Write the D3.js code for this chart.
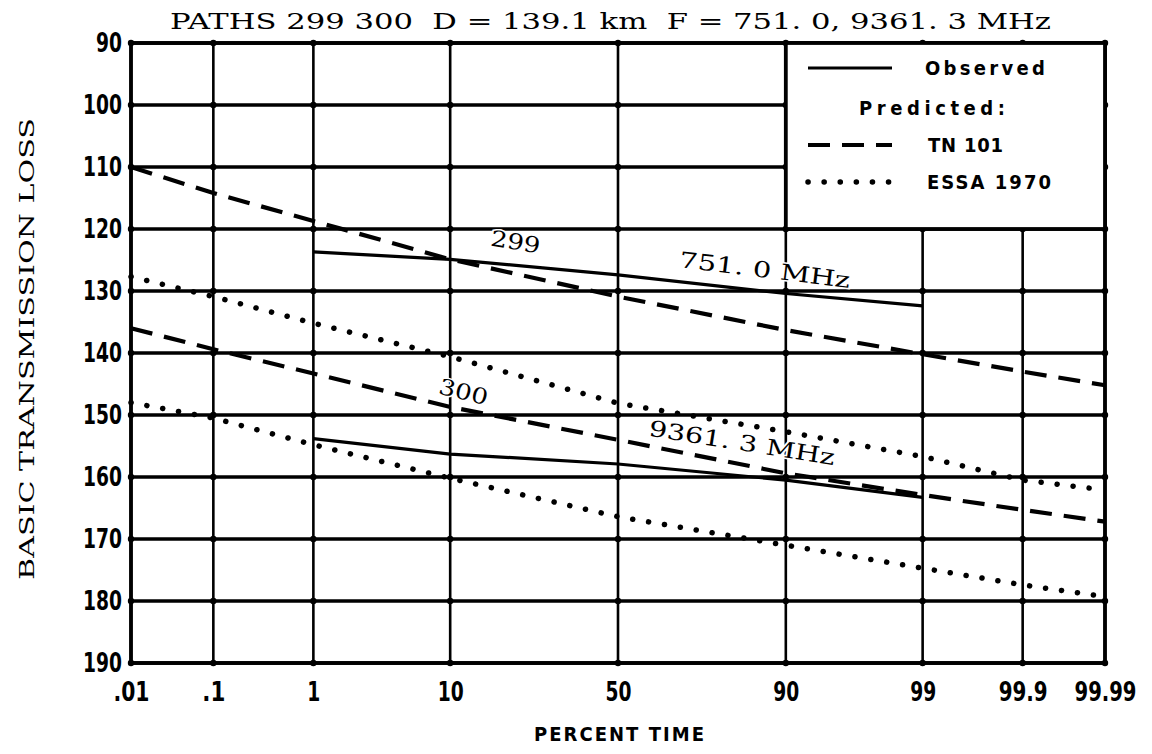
<!DOCTYPE html>
<html><head><meta charset="utf-8">
<script src="https://cdn.jsdelivr.net/npm/d3@7"></script>
<style>body{margin:0;background:#fff}</style>
</head><body>
<svg id="c" width="1152" height="754"></svg>
<script>
// ---------- data ----------
const percentTicks  = [0.01, 0.1, 1, 10, 50, 90, 99, 99.9, 99.99];
const percentLabels = [".01", ".1", "1", "10", "50", "90", "99", "99.9", "99.99"];
const lossTicks     = [90, 100, 110, 120, 130, 140, 150, 160, 170, 180, 190];

const observedPct   = [1, 10, 50, 90, 99];
const observed299   = [123.7, 124.9, 127.4, 130.4, 132.4];   // 751.0 MHz
const observed300   = [153.8, 156.3, 157.9, 160.5, 163.3];   // 9361.3 MHz

const predictedPct  = [0.01, 0.1, 1, 10, 50, 90, 99, 99.9, 99.99];
const tn101_299     = [110.0, 114.2, 118.7, 124.9, 130.9, 136.3, 140.2, 143.0, 145.2];
const tn101_300     = [136.0, 139.4, 143.3, 148.7, 154.0, 159.4, 162.9, 165.3, 167.2];
const essa_299      = [127.7, 130.9, 135.2, 140.6, 148.1, 152.7, 156.7, 160.5, 162.1];
const essa_300      = [148.0, 150.5, 154.8, 160.2, 166.4, 171.0, 174.7, 177.4, 179.3];

const annotText  = ["299", "751. 0 MHz", "300", "9361. 3 MHz"];
const annotPct   = [21.7, 86.9, 11.9, 82.8];
const annotLoss  = [122.1, 126.6, 146.3, 154.5];

const titleText  = "PATHS 299 300  D = 139.1 km  F = 751. 0, 9361. 3 MHz";
const yTitle     = "BASIC TRANSMISSION LOSS";
const xTitle     = "PERCENT TIME";
const legendText = ["Observed", "Predicted:", "TN 101", "ESSA 1970"];

// ---------- helpers ----------
// inverse standard normal CDF (Acklam)
function probit(p) {
  const a=[-3.969683028665376e+01,2.209460984245205e+02,-2.759285104469687e+02,1.383577518672690e+02,-3.066479806614716e+01,2.506628277459239e+00];
  const b=[-5.447609879822406e+01,1.615858368580409e+02,-1.556989798598866e+02,6.680131188771972e+01,-1.328068155288572e+01];
  const c=[-7.784894002430293e-03,-3.223964580411365e-01,-2.400758277161838e+00,-2.549732539343734e+00,4.374664141464968e+00,2.938163982698783e+00];
  const d=[7.784695709041462e-03,3.224671290700398e-01,2.445134137142996e+00,3.754408661907416e+00];
  const pl=0.02425, ph=1-pl;
  let q,r;
  if (p<pl){q=Math.sqrt(-2*Math.log(p));return (((((c[0]*q+c[1])*q+c[2])*q+c[3])*q+c[4])*q+c[5])/((((d[0]*q+d[1])*q+d[2])*q+d[3])*q+1);}
  if (p<=ph){q=p-0.5;r=q*q;return (((((a[0]*r+a[1])*r+a[2])*r+a[3])*r+a[4])*r+a[5])*q/(((((b[0]*r+b[1])*r+b[2])*r+b[3])*r+b[4])*r+1);}
  q=Math.sqrt(-2*Math.log(1-p));return -(((((c[0]*q+c[1])*q+c[2])*q+c[3])*q+c[4])*q+c[5])/((((d[0]*q+d[1])*q+d[2])*q+d[3])*q+1);
}

// ---------- layout ----------
const L = 131, R = 1105, T = 43, B = 663;
const svg = d3.select("#c");
const zScale = d3.scaleLinear()
  .domain([probit(percentTicks[0]/100), probit(percentTicks[percentTicks.length-1]/100)])
  .range([L, R]);
const x = p => zScale(probit(p/100));
const y = d3.scaleLinear().domain([90, 190]).range([T, B]);

const sansB = "'Liberation Sans Narrow','DejaVu Sans Condensed','Liberation Sans',sans-serif";
const serif = "'DejaVu Serif','Liberation Serif',serif";
const labelWidth = s => s.split("").reduce((w, ch) => w + (ch === "." ? 10 : 13), 0);

// grid
const g = svg.append("g");
g.selectAll("line.h").data(lossTicks).enter().append("line")
  .attr("x1", L).attr("x2", R).attr("y1", d=>y(d)).attr("y2", d=>y(d))
  .attr("stroke", "#000").attr("stroke-width", 3.6);
g.selectAll("line.v").data(percentTicks).enter().append("line")
  .attr("y1", T).attr("y2", B).attr("x1", d=>x(d)).attr("x2", d=>x(d))
  .attr("stroke", "#000").attr("stroke-width", 2.6);
const nodes = [];
percentTicks.forEach(p => lossTicks.forEach(v => nodes.push([p, v])));
g.selectAll("circle.n").data(nodes).enter().append("circle")
  .attr("cx", d=>x(d[0])).attr("cy", d=>y(d[1])).attr("r", 3.2).attr("fill", "#000");
g.append("rect").attr("x", L).attr("y", T).attr("width", R-L).attr("height", B-T)
  .attr("fill", "none").attr("stroke", "#000").attr("stroke-width", 3.8);

// tick labels
const yAxis = d3.axisLeft(y).tickValues(lossTicks).tickSize(0).tickPadding(9);
svg.append("g").attr("transform", `translate(${L},0)`).call(yAxis)
  .call(s => s.select(".domain").remove())
  .selectAll("text").attr("font-family", sansB).attr("font-weight", "bold")
  .attr("font-size", 27).attr("fill", "#000")
  .attr("textLength", d => labelWidth(String(d))).attr("lengthAdjust", "spacingAndGlyphs");

const xAxis = d3.axisBottom(zScale).tickValues(percentTicks.map(p => probit(p/100)))
  .tickFormat((d,i) => percentLabels[i]).tickSize(0).tickPadding(19);
svg.append("g").attr("transform", `translate(0,${B})`).call(xAxis)
  .call(s => s.select(".domain").remove())
  .selectAll("text").attr("font-family", sansB).attr("font-weight", "bold")
  .attr("font-size", 27).attr("fill", "#000")
  .attr("textLength", (d,i) => labelWidth(percentLabels[i])).attr("lengthAdjust", "spacingAndGlyphs");

// titles
svg.append("text").attr("x", 170).attr("y", 29).attr("font-family", serif)
  .attr("font-size", 22).attr("textLength", 881).attr("lengthAdjust", "spacingAndGlyphs")
  .style("white-space", "pre").text(titleText);
svg.append("text").attr("transform", "translate(34,349) rotate(-90)")
  .attr("text-anchor", "middle").attr("font-family", serif).attr("font-size", 21)
  .attr("textLength", 462).attr("lengthAdjust", "spacingAndGlyphs").text(yTitle);
svg.append("text").attr("x", 534).attr("y", 741).attr("font-family", sansB)
  .attr("font-weight", "bold").attr("font-size", 20).attr("textLength", 170)
  .attr("lengthAdjust", "spacing").text(xTitle);

// series
const line = d3.line().x(d=>x(d[0])).y(d=>y(d[1]));
const zip = (a, b) => a.map((v,i) => [v, b[i]]);
const series = [
  {pts: zip(observedPct, observed299), style: "solid"},
  {pts: zip(observedPct, observed300), style: "solid"},
  {pts: zip(predictedPct, tn101_299), style: "dash"},
  {pts: zip(predictedPct, tn101_300), style: "dash"},
  {pts: zip(predictedPct, essa_299), style: "dot"},
  {pts: zip(predictedPct, essa_300), style: "dot"},
];
function styleLine(sel, style) {
  sel.attr("fill", "none").attr("stroke", "#000");
  if (style === "solid") sel.attr("stroke-width", 3.2);
  if (style === "dash") sel.attr("stroke-width", 4.2).attr("stroke-dasharray", "22 12");
  if (style === "dot") sel.attr("stroke-width", 5.5).attr("stroke-linecap", "round").attr("stroke-dasharray", "0.1 16");
}
series.forEach(s => styleLine(svg.append("path").attr("d", line(s.pts)), s.style));

// annotations
const annotRot = [9, 7, 14, 9];
const annotLen = [50, 172, 50, 188];
annotText.forEach((t, i) => {
  svg.append("text")
    .attr("transform", `translate(${x(annotPct[i])},${y(annotLoss[i])}) rotate(${annotRot[i]})`)
    .attr("text-anchor", "middle").attr("dominant-baseline", "central")
    .attr("font-family", serif).attr("font-size", 22)
    .attr("textLength", annotLen[i]).attr("lengthAdjust", "spacingAndGlyphs")
    .attr("paint-order", "stroke").attr("stroke", "#fff").attr("stroke-width", 3)
    .text(t);
});

// legend
const lx0 = x(90), lx1 = R, ly0 = T, ly1 = y(120);
svg.append("rect").attr("x", lx0).attr("y", ly0).attr("width", lx1-lx0).attr("height", ly1-ly0)
  .attr("fill", "#fff").attr("stroke", "#000").attr("stroke-width", 3.8);
const rowY = [68, 108, 145, 182];
const sx0 = 808, sx1 = 892;
styleLine(svg.append("line").attr("x1", sx0).attr("x2", sx1).attr("y1", rowY[0]).attr("y2", rowY[0]), "solid");
styleLine(svg.append("line").attr("x1", sx0).attr("x2", sx1).attr("y1", rowY[2]).attr("y2", rowY[2]), "dash");
styleLine(svg.append("line").attr("x1", sx0).attr("x2", sx1).attr("y1", rowY[3]).attr("y2", rowY[3]), "dot");
const legX = [925, 859, 928, 927];
const legLen = [120, 146, 75, 124];
legendText.forEach((t, i) => {
  svg.append("text").attr("x", legX[i]).attr("y", rowY[i]).attr("dominant-baseline", "central")
    .attr("font-family", sansB).attr("font-weight", "bold").attr("font-size", 20)
    .attr("textLength", legLen[i]).attr("lengthAdjust", "spacing").text(t);
});
</script>
</body></html>
